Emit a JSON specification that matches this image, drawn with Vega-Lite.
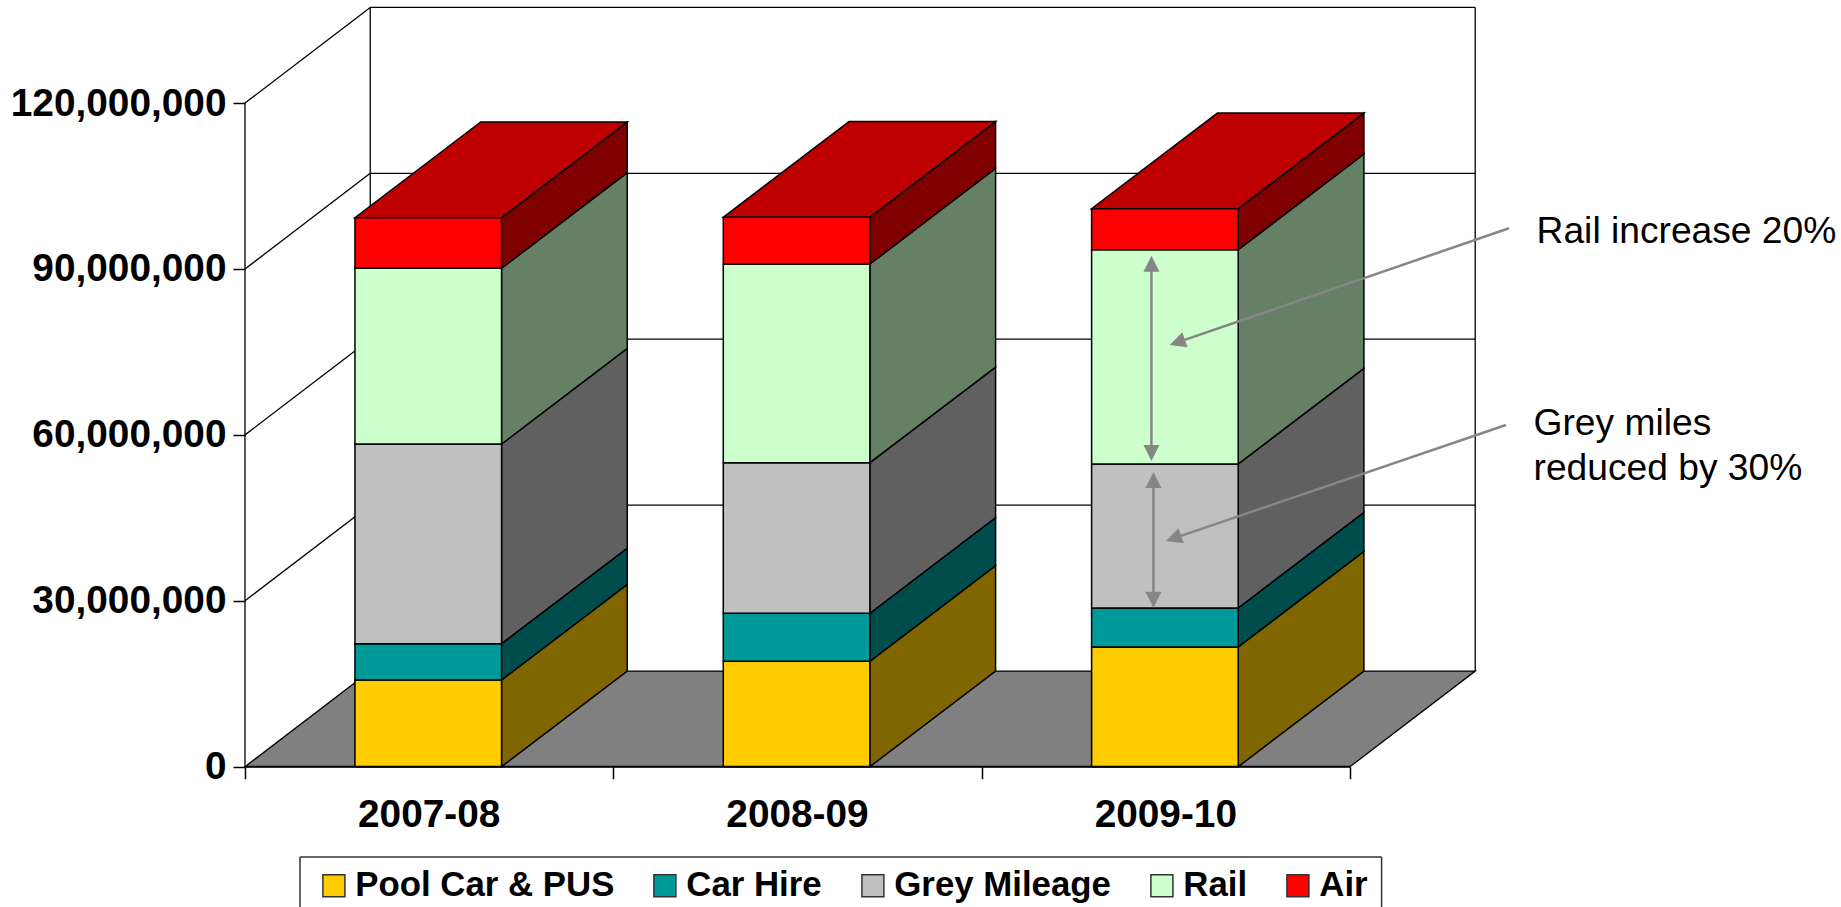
{"$schema":"https://vega.github.io/schema/vega-lite/v6.json","width":1841,"height":907,"padding":0,"autosize":{"type":"none"},"background":"white","config":{"view":{"stroke":null},"font":"Liberation Sans"},
"encoding":{
"x":{"field":"x","type":"quantitative","title":null,"scale":{"domain":[-0.66517,4.33307],"nice":false,"zero":false},"axis":{"orient":"bottom","offset":-140.3,"values":[0,1,2,3],"labels":false,"domain":false,"grid":false,"tickSize":12,"tickColor":"#000000","tickWidth":1.5}},
"y":{"field":"y","type":"quantitative","title":null,"stack":null,"scale":{"domain":[-25370000,138640000],"nice":false,"zero":false},"axis":{"orient":"left","offset":-245,"values":[0,30000000,60000000,90000000,120000000],"labelExpr":"format(datum.value, ',')","labelLimit":500,"domain":false,"grid":false,"tickSize":12,"tickColor":"#000000","tickWidth":1.5,"labelFont":"Liberation Sans","labelFontWeight":"bold","labelFontSize":38.8,"labelColor":"#000000","labelPadding":7}}
},
"layer":[
{"data":{"values":[
{"x":0,"x2":0,"y":0,"y2":120000000},
{"x":0,"x2":0.34,"y":120000000,"y2":137300000},
{"x":0,"x2":0.34,"y":90000000,"y2":107300000},
{"x":0,"x2":0.34,"y":60000000,"y2":77300000},
{"x":0,"x2":0.34,"y":30000000,"y2":47300000},
{"x":0.34,"x2":0.34,"y":17300000,"y2":137300000},
{"x":3.34,"x2":3.34,"y":17300000,"y2":137300000},
{"x":0.34,"x2":3.34,"y":137300000,"y2":137300000},
{"x":0.34,"x2":3.34,"y":107300000,"y2":107300000},
{"x":0.34,"x2":3.34,"y":77300000,"y2":77300000},
{"x":0.34,"x2":3.34,"y":47300000,"y2":47300000}
]},"mark":{"type":"rule","color":"#000000","strokeWidth":1.3},"encoding":{"x2":{"field":"x2"},"y2":{"field":"y2"}}},
{"data":{"values":[
{"y":0,"x":0,"x2":3},
{"y":17300000,"x":0.34,"x2":3.34}
]},"mark":{"type":"area","orient":"horizontal","color":"#808080","stroke":"#000000","strokeWidth":1.3},"encoding":{"x2":{"field":"x2"}}},
{"data":{"values":[
{"year":"2007-08","series":"Pool Car & PUS","x":0.6965,"y":15680000,"y2":0},{"year":"2007-08","series":"Pool Car & PUS","x":1.0378,"y":32980000,"y2":17300000},
{"year":"2007-08","series":"Car Hire","x":0.6965,"y":22240000,"y2":15680000},{"year":"2007-08","series":"Car Hire","x":1.0378,"y":39540000,"y2":32980000},
{"year":"2007-08","series":"Grey Mileage","x":0.6965,"y":58350000,"y2":22240000},{"year":"2007-08","series":"Grey Mileage","x":1.0378,"y":75650000,"y2":39540000},
{"year":"2007-08","series":"Rail","x":0.6965,"y":90130000,"y2":58350000},{"year":"2007-08","series":"Rail","x":1.0378,"y":107430000,"y2":75650000},
{"year":"2007-08","series":"Air","x":0.6965,"y":99280000,"y2":90130000},{"year":"2007-08","series":"Air","x":1.0378,"y":116580000,"y2":107430000},
{"year":"2008-09","series":"Pool Car & PUS","x":1.6965,"y":19060000,"y2":0},{"year":"2008-09","series":"Pool Car & PUS","x":2.0378,"y":36360000,"y2":17300000},
{"year":"2008-09","series":"Car Hire","x":1.6965,"y":27740000,"y2":19060000},{"year":"2008-09","series":"Car Hire","x":2.0378,"y":45040000,"y2":36360000},
{"year":"2008-09","series":"Grey Mileage","x":1.6965,"y":54970000,"y2":27740000},{"year":"2008-09","series":"Grey Mileage","x":2.0378,"y":72270000,"y2":45040000},
{"year":"2008-09","series":"Rail","x":1.6965,"y":90900000,"y2":54970000},{"year":"2008-09","series":"Rail","x":2.0378,"y":108200000,"y2":72270000},
{"year":"2008-09","series":"Air","x":1.6965,"y":99350000,"y2":90900000},{"year":"2008-09","series":"Air","x":2.0378,"y":116650000,"y2":108200000},
{"year":"2009-10","series":"Pool Car & PUS","x":2.6965,"y":21650000,"y2":0},{"year":"2009-10","series":"Pool Car & PUS","x":3.0378,"y":38950000,"y2":17300000},
{"year":"2009-10","series":"Car Hire","x":2.6965,"y":28700000,"y2":21650000},{"year":"2009-10","series":"Car Hire","x":3.0378,"y":46000000,"y2":38950000},
{"year":"2009-10","series":"Grey Mileage","x":2.6965,"y":54740000,"y2":28700000},{"year":"2009-10","series":"Grey Mileage","x":3.0378,"y":72040000,"y2":46000000},
{"year":"2009-10","series":"Rail","x":2.6965,"y":93490000,"y2":54740000},{"year":"2009-10","series":"Rail","x":3.0378,"y":110790000,"y2":72040000},
{"year":"2009-10","series":"Air","x":2.6965,"y":100900000,"y2":93490000},{"year":"2009-10","series":"Air","x":3.0378,"y":118200000,"y2":110790000}
]},"mark":{"type":"area","stroke":"#000000","strokeWidth":1.5},"encoding":{"y2":{"field":"y2"},"detail":{"field":"year"},"color":{"field":"series","type":"nominal","legend":null,"scale":{"domain":["Pool Car & PUS","Car Hire","Grey Mileage","Rail","Air"],"range":["#806600","#004D4D","#606060","#668066","#800000"]}}}},
{"data":{"values":[
{"year":"2007-08","y":99280000,"x":0.2985,"x2":0.6965},{"year":"2007-08","y":116580000,"x":0.6398,"x2":1.0378},
{"year":"2008-09","y":99350000,"x":1.2985,"x2":1.6965},{"year":"2008-09","y":116650000,"x":1.6398,"x2":2.0378},
{"year":"2009-10","y":100900000,"x":2.2985,"x2":2.6965},{"year":"2009-10","y":118200000,"x":2.6398,"x2":3.0378}
]},"mark":{"type":"area","orient":"horizontal","color":"#BF0000","stroke":"#000000","strokeWidth":1.5},"encoding":{"x2":{"field":"x2"},"detail":{"field":"year"}}},
{"data":{"values":[
{"year":"2007-08","series":"Pool Car & PUS","x":0.2985,"x2":0.6965,"y":15680000,"y2":0},
{"year":"2007-08","series":"Car Hire","x":0.2985,"x2":0.6965,"y":22240000,"y2":15680000},
{"year":"2007-08","series":"Grey Mileage","x":0.2985,"x2":0.6965,"y":58350000,"y2":22240000},
{"year":"2007-08","series":"Rail","x":0.2985,"x2":0.6965,"y":90130000,"y2":58350000},
{"year":"2007-08","series":"Air","x":0.2985,"x2":0.6965,"y":99280000,"y2":90130000},
{"year":"2008-09","series":"Pool Car & PUS","x":1.2985,"x2":1.6965,"y":19060000,"y2":0},
{"year":"2008-09","series":"Car Hire","x":1.2985,"x2":1.6965,"y":27740000,"y2":19060000},
{"year":"2008-09","series":"Grey Mileage","x":1.2985,"x2":1.6965,"y":54970000,"y2":27740000},
{"year":"2008-09","series":"Rail","x":1.2985,"x2":1.6965,"y":90900000,"y2":54970000},
{"year":"2008-09","series":"Air","x":1.2985,"x2":1.6965,"y":99350000,"y2":90900000},
{"year":"2009-10","series":"Pool Car & PUS","x":2.2985,"x2":2.6965,"y":21650000,"y2":0},
{"year":"2009-10","series":"Car Hire","x":2.2985,"x2":2.6965,"y":28700000,"y2":21650000},
{"year":"2009-10","series":"Grey Mileage","x":2.2985,"x2":2.6965,"y":54740000,"y2":28700000},
{"year":"2009-10","series":"Rail","x":2.2985,"x2":2.6965,"y":93490000,"y2":54740000},
{"year":"2009-10","series":"Air","x":2.2985,"x2":2.6965,"y":100900000,"y2":93490000}
]},"mark":{"type":"rect","stroke":"#000000","strokeWidth":1.5},"encoding":{"x2":{"field":"x2"},"y2":{"field":"y2"},"color":{"field":"series","type":"nominal","title":null,"scale":{"domain":["Pool Car & PUS","Car Hire","Grey Mileage","Rail","Air"],"range":["#FFCC00","#009999","#C0C0C0","#CCFFCC","#FF0000"]},"legend":{"orient":"none","legendX":316.5,"legendY":868,"direction":"horizontal","columns":5,"padding":0,"symbolType":"square","symbolSize":484,"symbolStrokeColor":"#333333","symbolStrokeWidth":1.5,"labelFont":"Liberation Sans","labelFontWeight":"bold","labelFontSize":34.8,"labelColor":"#000000","labelLimit":500,"labelOffset":4,"columnPadding":33}}}},
{"data":{"values":[
{"x":0,"x2":3,"y":0,"y2":0}
]},"mark":{"type":"rule","color":"#000000","strokeWidth":2},"encoding":{"x2":{"field":"x2"},"y2":{"field":"y2"}}},
{"data":{"values":[
{"x":0.1493,"x2":3.0858,"y":-16330000,"y2":-16330000},
{"x":0.1493,"x2":0.1493,"y":-16330000,"y2":-25370000},
{"x":3.0858,"x2":3.0858,"y":-16330000,"y2":-25370000}
]},"mark":{"type":"rule","color":"#333333","strokeWidth":1.5},"encoding":{"x2":{"field":"x2"},"y2":{"field":"y2"}}},
{"data":{"values":[
{"x":0.5,"y":-10850000,"label":"2007-08"},
{"x":1.5,"y":-10850000,"label":"2008-09"},
{"x":2.5,"y":-10850000,"label":"2009-10"}
]},"mark":{"type":"text","align":"center","baseline":"alphabetic","font":"Liberation Sans","fontWeight":"bold","fontSize":38.8,"color":"#000000"},"encoding":{"text":{"field":"label"}}},
{"data":{"values":[
{"x":3.5066,"y":94760000,"label":"Rail increase 20%"},
{"x":3.4983,"y":59900000,"label":"Grey miles"},
{"x":3.4983,"y":51800000,"label":"reduced by 30%"}
]},"mark":{"type":"text","align":"left","baseline":"alphabetic","font":"Liberation Sans","fontSize":37.2,"color":"#000000"},"encoding":{"text":{"field":"label"}}},
{"data":{"values":[
{"x":2.4609,"x2":2.4609,"y":90950000,"y2":56730000},
{"x":2.4663,"x2":2.4663,"y":51840000,"y2":30200000},
{"x":3.4317,"x2":2.5314,"y":97360000,"y2":76730000},
{"x":3.4233,"x2":2.5211,"y":61790000,"y2":41280000}
]},"mark":{"type":"rule","color":"#868686","strokeWidth":2.5},"encoding":{"x2":{"field":"x2"},"y2":{"field":"y2"}}},
{"data":{"values":[{"x":2.4609,"y":92400000},{"x":2.4663,"y":53290000}]},"mark":{"type":"point","filled":true,"opacity":1,"shape":"M0,0 L-1,2 L1,2 Z","size":256,"color":"#868686","angle":0}},
{"data":{"values":[{"x":2.4609,"y":55280000},{"x":2.4663,"y":28750000}]},"mark":{"type":"point","filled":true,"opacity":1,"shape":"M0,0 L-1,2 L1,2 Z","size":256,"color":"#868686","angle":180}},
{"data":{"values":[{"x":2.5108,"y":76260000},{"x":2.5005,"y":40810000}]},"mark":{"type":"point","filled":true,"opacity":1,"shape":"M0,0 L-1,2 L1,2 Z","size":256,"color":"#868686","angle":251}}
],
"resolve":{"scale":{"color":"independent"}}}
